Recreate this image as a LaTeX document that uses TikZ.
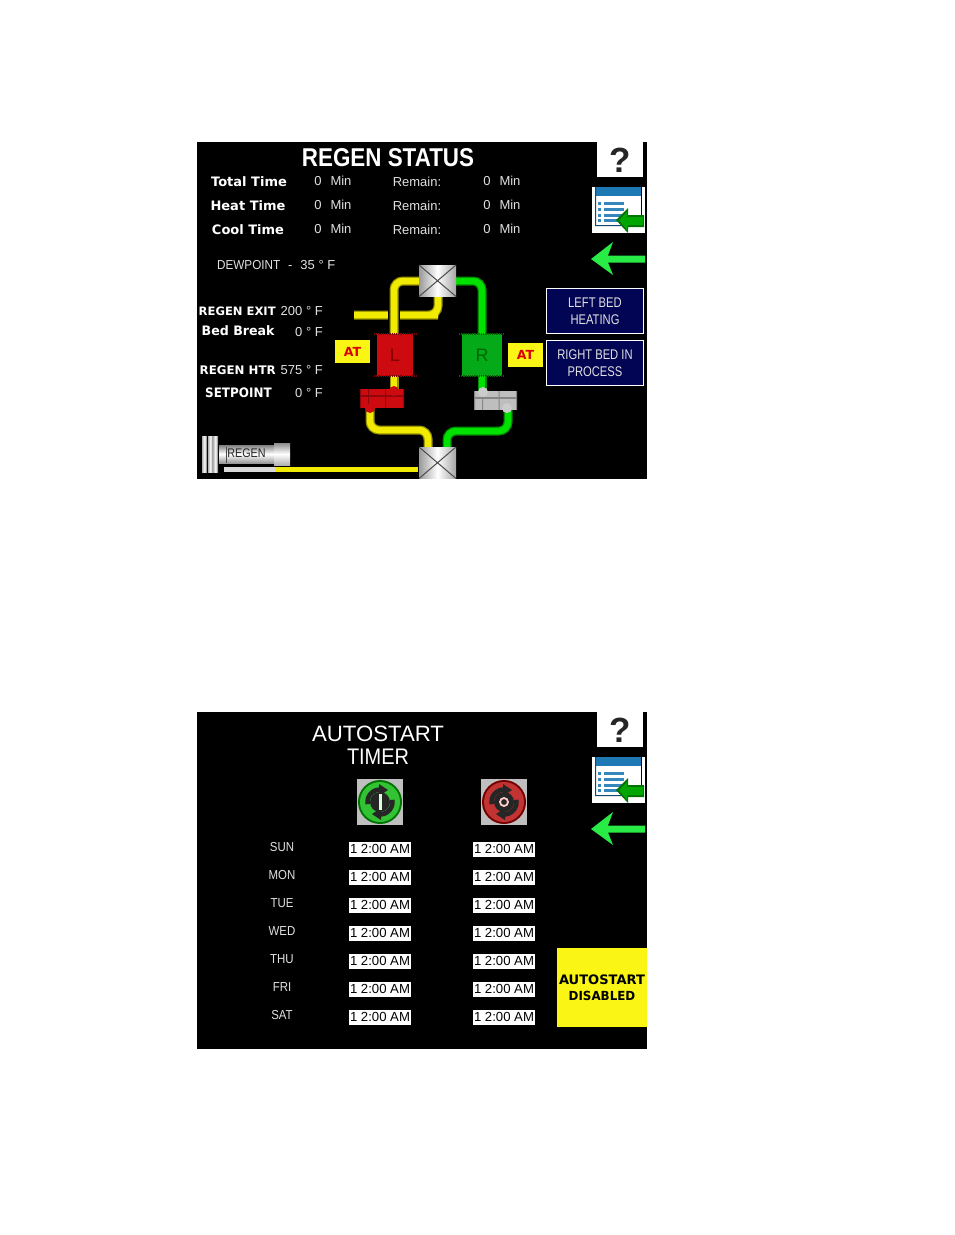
\documentclass[tikz,border=0pt]{standalone}
\usepackage{fontspec}
\usepackage{graphicx}
\setmainfont{Liberation Sans}
\newfontfamily\dejab{DejaVu Sans Bold}
\usetikzlibrary{arrows.meta,calc}
\definecolor{pipeY}{RGB}{240,235,0}
\definecolor{pipeYd}{RGB}{150,145,0}
\definecolor{pipeG}{RGB}{0,225,0}
\definecolor{pipeGd}{RGB}{0,135,0}
\definecolor{navy}{RGB}{2,4,84}
\definecolor{hmiYel}{RGB}{250,245,20}
\definecolor{redT}{RGB}{205,10,15}
\definecolor{grnT}{RGB}{5,170,25}
\definecolor{greyT}{RGB}{190,190,190}
\definecolor{arrowG}{RGB}{40,235,70}
\definecolor{iconB}{RGB}{30,120,180}
\definecolor{txtG}{RGB}{225,225,225}
\newcommand{\nar}[2]{\scalebox{#1}[1]{#2}}
\tikzset{
 panel/.style={fill=black,draw=none},
 lab/.style={text=white,inner sep=0pt,font=\dejab\fontsize{13}{13}\selectfont},
 val/.style={text=txtG,inner sep=0pt,font=\fontsize{13}{13}\selectfont},
 pipeYel/.style={rounded corners=9pt,line width=9pt,draw=pipeYd,postaction={draw=pipeY,line width=6.5pt}},
 pipeGrn/.style={rounded corners=9pt,line width=9pt,draw=pipeGd,postaction={draw=pipeG,line width=6.5pt}},
 hide/.style={rounded corners=9pt,line width=12pt,draw=black},
 statbtn/.style={draw=white,fill=navy,line width=1.2pt,text=txtG,align=center,inner sep=0pt,minimum width=97pt,minimum height=45pt,font=\fontsize{14}{17}\selectfont},
 atbox/.style={fill=hmiYel,text=red!85!black,inner sep=0pt,minimum width=35pt,minimum height=23pt,font=\dejab\fontsize{12.5}{13}\selectfont},
 timebox/.style={fill=white,text=black,inner sep=0pt,minimum width=62pt,minimum height=15pt,font=\fontsize{13.5}{14}\selectfont},
 day/.style={text=txtG,inner sep=0pt,font=\fontsize{13}{13}\selectfont},
 tank/.style={inner sep=0pt,minimum width=36pt,minimum height=42pt,font=\fontsize{18}{18}\selectfont}
}
\newcommand{\helpbtn}[2]{%
 \fill[white] (#1,#2) rectangle ++(46,35);
 \node[text=black!85,inner sep=0pt,font=\fontsize{35}{35}\selectfont\bfseries] (help#2) at (#1+23,#2+18) {?};}
\newcommand{\listicon}[2]{%
 \begin{scope}[shift={(#1,#2)}]
 \fill[white] (0,0) rectangle (53,46);
 \fill[iconB] (3,0) rectangle (49,9);
 \fill[iconB!60!black] (3,0) rectangle (4,39) (3,38) rectangle (49,39);
 \fill[black!80!blue] (49,0) rectangle (50,30);
 \foreach \yy in {15,21,27,32}{\fill[iconB!90!white] (6,\yy) rectangle (9,\yy+2.5);\fill[iconB!90!white] (12,\yy) rectangle (32,\yy+2.5);}
 \fill[green!45!black] (24,33) -- (36,21) -- (36,28) -- (52,28) -- (52,40) -- (36,40) -- (36,46) -- cycle;
 \fill[green!65!black] (27,33) -- (35,25) -- (35,30) -- (51,30) -- (51,38) -- (35,38) -- (35,43) -- cycle;
 \end{scope}}
\newcommand{\backarrow}[2]{%
 \fill[arrowG] (#1,#2) -- (#1+22,#2-17) -- (#1+17,#2-3.5) -- (#1+54,#2-3.5) -- (#1+54,#2+3.5) -- (#1+17,#2+3.5) -- (#1+22,#2+16) -- cycle;}
\newcommand{\valve}[2]{%
 \begin{scope}[shift={(#1,#2)}]
 \shade[left color=black!40,right color=black!35,middle color=white] (-18.5,-16) rectangle (18.5,15.5);
 \draw[black!70,line width=1pt] (-18.5,-16) -- (18.5,15.5) (-18.5,15.5) -- (18.5,-16);
 \end{scope}}
\newcommand{\tee}[5]{% x1 y1 x2 y2 colour
 \fill[#5] (#1,#2) rectangle (#3,#4);
 \fill[#5!70!black] (#1,{#2+6}) rectangle (#3,{#2+7.5});
 \fill[#5!70!black] ({#1+8},#2) rectangle ({#1+9},#4) ({(#1+#3)/2+3},#2) rectangle ({(#1+#3)/2+4},#4);
 \fill[#5!70!black] ({#3-1},#2) rectangle (#3,#4) (#1,#2) rectangle ({#1+1},#4);}
\newcommand{\powerbtn}[4]{% x y dark light
 \fill[black!25] (#1-23,#2-23) rectangle (#1+23,#2+23);
 \fill[#3] (#1,#2) circle (22pt);
 \fill[#4] (#1,#2) circle (20pt);
 \draw[black!85,line width=4.5pt] (#1,#2) ++(100:12.5) arc (100:-10:12.5);
 \draw[black!85,line width=4.5pt] (#1,#2) ++(280:12.5) arc (280:170:12.5);
 \fill[black!85] (#1,#2) circle (10pt);
 \fill[black!85] (#1-1,#2-18) -- (#1+8,#2-12) -- (#1-1,#2-6) -- cycle;
 \fill[black!85] (#1+1,#2+18) -- (#1-8,#2+12) -- (#1+1,#2+6) -- cycle;}
\begin{document}
\begin{tikzpicture}[x=1pt,y=-1pt]
\useasboundingbox (0,0) rectangle (954,1235);
\fill[white] (0,0) rectangle (954,1235);
% ---------- upper panel
\fill[panel] (197,142) rectangle (647,479);
\node[text=white,inner sep=0pt,font=\fontsize{25}{25}\selectfont\bfseries] (title1) at (388,158) {\resizebox{172pt}{18pt}{REGEN STATUS}};
\helpbtn{597}{142}
\listicon{592}{187}
\backarrow{591}{259}
\foreach \nm/\tx/\xx/\yy in {tt/Total Time/249/182,ht/Heat Time/248/206,ct/Cool Time/248/230}{
  \node[lab] (\nm) at (\xx,\yy) {\tx};}
\foreach \nm/\yy in {a/181,b/205,c/229}{
  \node[val] (z\nm) at (318,\yy) {0};
  \node[val] (m\nm) at (341,\yy) {Min};
  \node[val] (r\nm) at (417,\yy+1) {Remain:};
  \node[val] (y\nm) at (487,\yy) {0};
  \node[val] (n\nm) at (510,\yy) {Min};}
\node[val,anchor=west] (dew) at (217,265) {\nar{0.9}{DEWPOINT}\,\, -\,\, 35 ° F};
\node[lab,anchor=west] (rx) at (198.5,311) {\resizebox{77pt}{!}{REGEN EXIT}};
\node[lab,anchor=west] (bb) at (201.5,331) {\nar{0.97}{Bed Break}};
\node[lab,anchor=west] (rh) at (199.5,370) {\resizebox{76pt}{!}{REGEN HTR}};
\node[lab,anchor=west] (sp) at (205,393) {\nar{0.92}{SETPOINT}};
\node[val,anchor=east] (v1) at (323,311) {200 ° F};
\node[val,anchor=east] (v2) at (323,332) {0 ° F};
\node[val,anchor=east] (v3) at (323,370) {575 ° F};
\node[val,anchor=east] (v4) at (323,393) {0 ° F};
% pipes
\draw[pipeYel] (354,315) -- (429,315) -- (438,315) -- (438,295);
\draw[hide,rounded corners=9pt] (394,333) -- (394,300);
\draw[pipeYel] (394,335) -- (394,281) -- (421,281);
\draw[pipeGrn] (454,281) -- (482,281) -- (482,335);
\draw[pipeYel,rounded corners=0pt] (394,375) -- (394,390);
\draw[pipeGrn,rounded corners=0pt] (482,375) -- (482,392);
\draw[pipeYel] (370,408) -- (370,430) -- (428,430) -- (428,449);
\draw[pipeGrn] (447,449) -- (447,431) -- (508,431) -- (508,408);
\draw[line width=5pt,draw=black!15] (224,469.5) -- (275,469.5);
\draw[line width=5pt,draw=pipeY] (275,469.5) -- (418,469.5);
\valve{437.5}{281}
\valve{437.5}{463}
% tanks
\node[tank,fill=redT,text=red!50!black] (L) at (395,355) {L};
\draw[redT!60!black,densely dotted,line width=1.2pt] (374,334) -- (416,334) (374,376) -- (416,376);
\node[tank,fill=grnT,minimum width=40pt,text=green!40!black] (R) at (482,355) {R};
\draw[green!40!black,densely dotted,line width=1.2pt] (459,334) -- (505,334) (459,376) -- (505,376);
\tee{360}{389}{404}{408}{redT}
\fill[redT] (394,391) circle (5pt);
\fill[redT] (370,408) circle (5pt);
\tee{474}{391}{517}{410}{greyT}
\fill[greyT!80!white] (483,392) circle (5pt);
\fill[greyT!80!white] (507,408) circle (5pt);
% regen blower
\foreach \xx in {202,208,213}{\shade[left color=black!30,right color=black!60,middle color=white] (\xx,436) rectangle ++(5,36);}
\shade[top color=black!50,bottom color=black!40,middle color=white] (219,445) rectangle (274,463);
\shade[top color=black!45,bottom color=black!30,middle color=white] (274,443) rectangle (290,465);
\draw[black!70] (226,447) -- (226,463);
\node[text=black!85,inner sep=0pt,font=\fontsize{12.5}{13}\selectfont] (regen) at (246.5,453) {\nar{0.86}{REGEN}};
% boxes
\node[atbox] (atl) at (352.5,351.5) {AT};
\node[atbox,minimum height=24pt] (atr) at (525.5,355) {AT};
\node[statbtn] (b1) at (595,311) {\nar{0.8}{LEFT BED}\\\nar{0.8}{HEATING}};
\node[statbtn] (b2) at (595,363) {\nar{0.8}{RIGHT BED IN}\\\nar{0.8}{PROCESS}};
% ---------- lower panel
\fill[panel] (197,712) rectangle (647,1049);
\node[text=white,inner sep=0pt,font=\fontsize{22}{22}\selectfont] (at1) at (378,734) {\resizebox{132pt}{15.5pt}{AUTOSTART}};
\node[text=white,inner sep=0pt,font=\fontsize{22}{22}\selectfont] (at2) at (378,757) {\resizebox{62pt}{15.5pt}{TIMER}};
\helpbtn{597}{712}
\listicon{592}{757}
\backarrow{591}{829}
% start / stop buttons
\powerbtn{380}{802}{green!45!black}{green!70!black!80!white}
\fill[white!85!green] (378.5,794) rectangle (381.5,810);
\powerbtn{504}{802}{red!45!black}{red!70!black!80!white}
\draw[white!80!red,line width=1.8pt] (504,802) circle (4pt);
% schedule
\foreach \d/\yy in {SUN/848,MON/876,TUE/904,WED/932,THU/960,FRI/988,SAT/1016}{
  \node[day] (d\d) at (282,\yy-1) {\nar{0.88}{\d}};
  \node[timebox] (l\d) at (380,\yy+1) {\resizebox{60pt}{!}{1 2:00 AM}};
  \node[timebox] (r\d) at (504,\yy+1) {\resizebox{60pt}{!}{1 2:00 AM}};}
\node[fill=hmiYel,text=black,align=center,inner sep=0pt,minimum width=90pt,minimum height=79pt,font=\dejab\fontsize{12.5}{16}\selectfont] (dis) at (602,987.5) {\resizebox{86pt}{!}{AUTOSTART}\\\nar{0.95}{DISABLED}};
\end{tikzpicture}
\end{document}
